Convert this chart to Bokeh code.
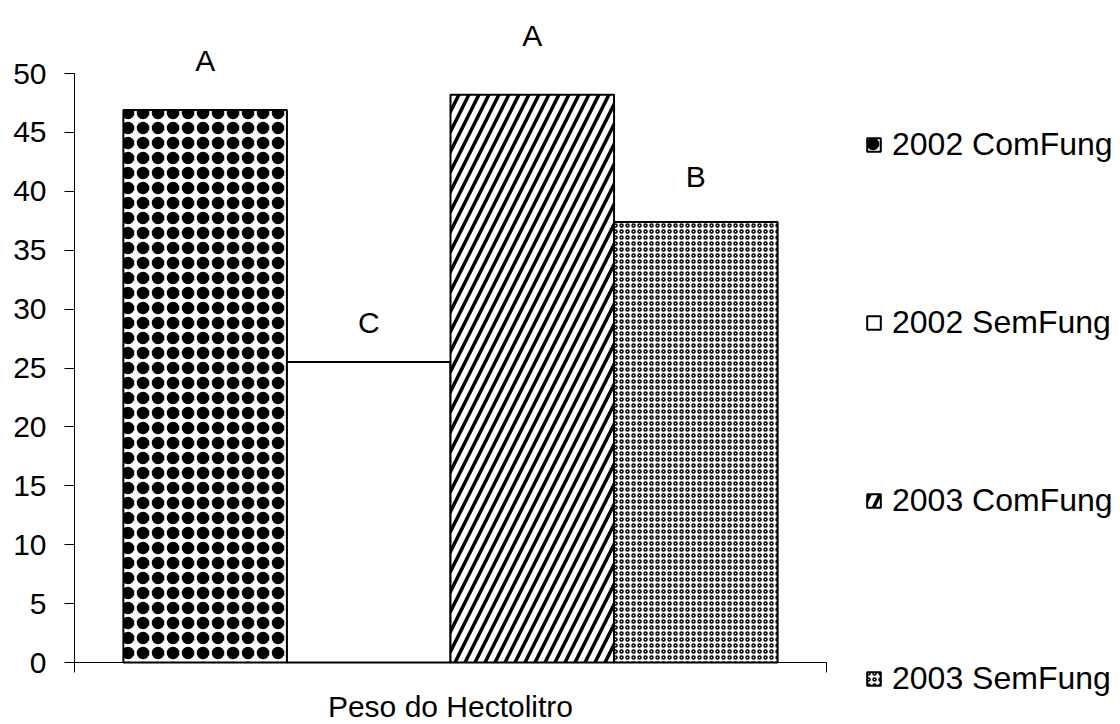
from bokeh.plotting import figure
from bokeh.models import Range1d, FixedTicker, Legend, LegendItem, ColumnDataSource
from bokeh.core.properties import value
from bokeh.embed import file_html
from bokeh.resources import INLINE

# ---- data ----
group = "Peso do Hectolitro"
series = ["2002 ComFung", "2002 SemFung", "2003 ComFung", "2003 SemFung"]
values = [46.9, 25.5, 48.2, 37.4]
letters = ["A", "C", "A", "B"]
y_ticks = [0, 5, 10, 15, 20, 25, 30, 35, 40, 45, 50]

# ---- style / layout ----
FONT = "Liberation Sans"
FS = "30px"
LEG_FS = "32px"
BAR_W = 0.2175
letter_gap = [50, 40, 59, 45]  # px above bar top (text centre)
W, H = 1120, 724
X0_PX, X1_PX = 74, 826          # screen x of the category band edges
Y0_PX, Y50_PX = 662, 73         # screen y of value 0 and value 50
sx = (X1_PX - X0_PX)            # px per x unit
sy = (Y0_PX - Y50_PX) / 50.0    # px per y unit

hatches = [dict(hatch_pattern="ring", hatch_scale=15, hatch_weight=5),
           dict(hatch_pattern=" "),
           dict(hatch_pattern="right_diagonal_line", hatch_scale=20, hatch_weight=3.5),
           dict(hatch_pattern="ring", hatch_scale=6, hatch_weight=1.5)]
overlay = [dict(hatch_pattern="dot", hatch_scale=15), None, None, None]

x_pos = [0.5 + (i - (len(series) - 1) / 2) * BAR_W for i in range(len(series))]

p = figure(width=W, height=H,
           x_range=Range1d(-X0_PX / sx, (W - X0_PX) / sx),
           y_range=Range1d(-(H - Y0_PX) / sy, Y0_PX / sy),
           output_backend="svg", toolbar_location=None,
           min_border=0, min_border_left=0, min_border_right=0,
           min_border_top=0, min_border_bottom=0)
p.outline_line_color = None
p.xgrid.visible = False
p.ygrid.visible = False
p.background_fill_color = "white"
p.border_fill_color = "white"

items = []
for i, name in enumerate(series):
    src = ColumnDataSource(dict(x=[x_pos[i]], top=[values[i]]))
    r = p.vbar(x="x", top="top", width=BAR_W, bottom=0, source=src,
               fill_color="white", line_color="black", line_width=2,
               hatch_color="black", **hatches[i])
    rs = [r]
    if overlay[i] is not None:
        r2 = p.vbar(x="x", top="top", width=BAR_W, bottom=0, source=src,
                    fill_alpha=0, line_alpha=0, hatch_color="black", **overlay[i])
        rs.append(r2)
    items.append(LegendItem(label=name, renderers=rs))

lsrc = ColumnDataSource(dict(x=x_pos, y=values, t=letters, off=[-g for g in letter_gap]))
p.text(x="x", y="y", text="t", y_offset="off", source=lsrc, text_align="center",
       text_baseline="middle", text_font=value(FONT), text_font_size=FS, text_color="black")

# y axis
ya = p.yaxis[0]
ya.fixed_location = 0
ya.ticker = FixedTicker(ticks=y_ticks)
ya.bounds = (0, 50)
ya.major_tick_out = 10
ya.major_tick_in = 0
ya.minor_tick_out = 0
ya.minor_tick_in = 0
ya.major_label_text_font = FONT
ya.major_label_text_font_size = FS
ya.major_label_text_color = "black"
ya.major_label_standoff = 18
ya.axis_line_color = "black"
ya.major_tick_line_color = "black"

# x axis
xa = p.xaxis[0]
xa.fixed_location = 0
xa.ticker = FixedTicker(ticks=[0, 1])
xa.bounds = (0, 1)
xa.major_label_overrides = {0: "", 1: ""}
xa.major_label_text_font_size = "0px"
xa.major_label_standoff = 0
xa.major_tick_out = 10
xa.major_tick_in = 0
xa.minor_tick_out = 0
xa.minor_tick_in = 0
xa.axis_line_color = "black"
xa.major_tick_line_color = "black"
xa.axis_label = group
xa.axis_label_text_font = FONT
xa.axis_label_text_font_size = FS
xa.axis_label_text_font_style = "normal"
xa.axis_label_text_color = "black"
xa.axis_label_standoff = 17

legend = Legend(items=items, location=(865, 27), orientation="vertical",
                label_text_font=FONT, label_text_font_size=LEG_FS, label_text_color="black",
                glyph_width=17, glyph_height=17, label_standoff=10, spacing=141,
                padding=0, margin=0, border_line_color=None, background_fill_alpha=0)
p.add_layout(legend, "center")

open("out.html", "w").write(file_html(p, INLINE))
